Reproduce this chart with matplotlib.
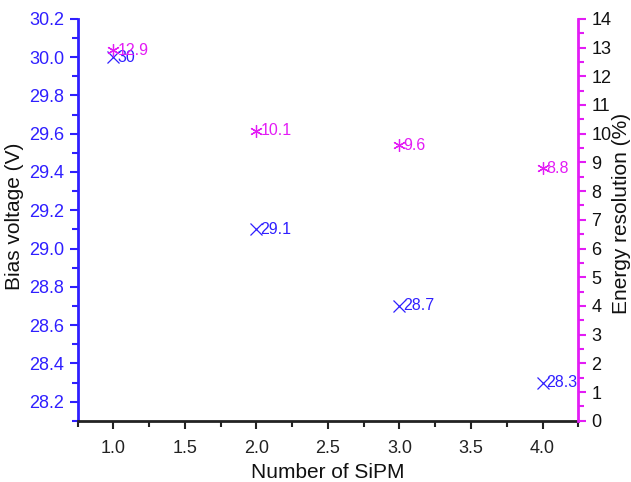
import matplotlib
matplotlib.use("Agg")
import matplotlib.pyplot as plt
from matplotlib.ticker import MultipleLocator, FormatStrFormatter

# Data
n_sipm = [1, 2, 3, 4]
bias_v = [30.0, 29.1, 28.7, 28.3]
bias_labels = ["30", "29.1", "28.7", "28.3"]
resolution = [12.9, 10.1, 9.6, 8.8]
res_labels = ["12.9", "10.1", "9.6", "8.8"]

blue = "#2f1fff"
magenta = "#e31cf5"

plt.rcParams["font.family"] = ["Liberation Sans", "DejaVu Sans"]

fig = plt.figure(figsize=(6.31, 4.82), dpi=100)
ax = fig.add_axes([0.123, 0.127, 0.7935, 0.834])
ax2 = ax.twinx()

# bias voltage (left axis)
ax.plot(n_sipm, bias_v, linestyle="none", marker="x", ms=8, mew=0.9, color=blue)
for x, y, t in zip(n_sipm, bias_v, bias_labels):
    ax.annotate(t, (x, y), xytext=(3, 0), textcoords="offset points",
                ha="left", va="center", fontsize=11.5, color=blue)

# energy resolution (right axis)
ax2.plot(n_sipm, resolution, linestyle="none", marker=(6, 2, 0), ms=9, mew=0.9,
         color=magenta)
for x, y, t in zip(n_sipm, resolution, res_labels):
    ax2.annotate(t, (x, y), xytext=(3, 0), textcoords="offset points",
                 ha="left", va="center", fontsize=11.5, color=magenta)

ax.set_xlim(0.75, 4.25)
ax.set_ylim(28.1, 30.2)
ax2.set_ylim(0, 14)

ax.xaxis.set_major_locator(MultipleLocator(0.5))
ax.xaxis.set_minor_locator(MultipleLocator(0.25))
ax.yaxis.set_major_locator(MultipleLocator(0.2))
ax.yaxis.set_minor_locator(MultipleLocator(0.1))
ax2.yaxis.set_major_locator(MultipleLocator(1))
ax2.yaxis.set_minor_locator(MultipleLocator(0.5))
ax.xaxis.set_major_formatter(FormatStrFormatter("%.1f"))
ax.yaxis.set_major_formatter(FormatStrFormatter("%.1f"))

for a in (ax, ax2):
    a.spines["top"].set_visible(False)
ax.spines["right"].set_visible(False)
ax2.spines["left"].set_visible(False)
ax2.spines["bottom"].set_visible(False)

ax.spines["left"].set_color(blue)
ax.spines["left"].set_linewidth(2)
ax.spines["bottom"].set_color("#222222")
ax.spines["bottom"].set_linewidth(2)
ax2.spines["right"].set_color(magenta)
ax2.spines["right"].set_linewidth(2)

ax.tick_params(axis="x", which="major", direction="out", length=6, width=1.5,
               colors="#222222", labelsize=13, pad=8)
ax.tick_params(axis="x", which="minor", direction="out", length=4, width=1.5,
               colors="#222222")
ax.tick_params(axis="y", which="major", direction="out", length=6, width=1.5,
               colors=blue, labelsize=13)
ax.tick_params(axis="y", which="minor", direction="out", length=4, width=1.5,
               colors=blue)
ax2.tick_params(axis="y", which="major", direction="out", length=6, width=1.5,
                color=magenta, labelcolor="#111111", labelsize=13)
ax2.tick_params(axis="y", which="minor", direction="out", length=4, width=1.5,
                color=magenta)

ax.set_xlabel("Number of SiPM", fontsize=15, color="#111111")
ax.set_ylabel("Bias voltage (V)", fontsize=15, color="#111111")
ax2.set_ylabel("Energy resolution (%)", fontsize=15, color="#111111")
ax.xaxis.set_label_coords(0.5, -0.106)
ax.yaxis.set_label_coords(-0.107, 0.508)
ax2.yaxis.set_label_coords(1.067, 0.515)

fig.savefig("out.png", dpi=100)
